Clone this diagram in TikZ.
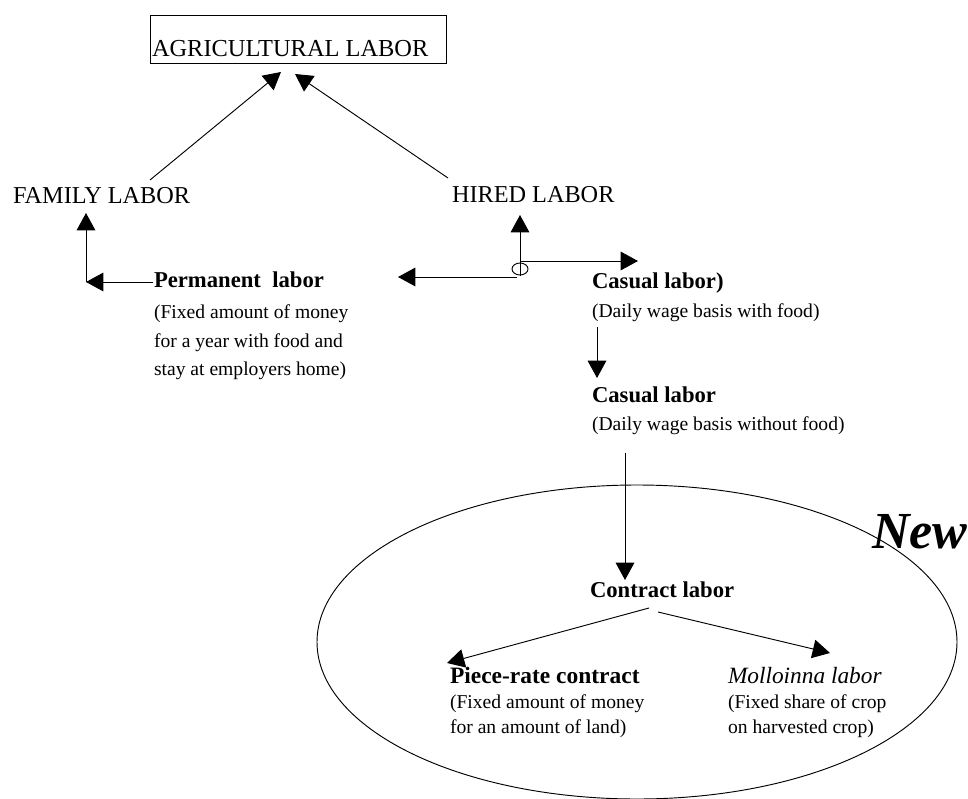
\documentclass[tikz,border=0pt]{standalone}
\usepackage{fontspec}
\setmainfont{Liberation Serif}
\usetikzlibrary{arrows.meta}
\tikzset{
  px/.style={x=0.75pt,y=-0.75pt},
  conn/.style={line width=0.7pt,-{Triangle[length=13pt,width=14pt]}},
  plain/.style={line width=0.7pt},
  txt/.style={anchor=base west,inner sep=0pt,outer sep=0pt},
  head/.style={txt,font=\fontsize{17pt}{20pt}\selectfont\bfseries},
  body/.style={txt,font=\fontsize{14.7pt}{18pt}\selectfont},
  caps/.style={txt,font=\fontsize{18.2pt}{21pt}\selectfont},
}
\begin{document}
\begin{tikzpicture}[px]
\useasboundingbox (0,0) rectangle (968,799);
% top box
\node[draw,line width=1pt,minimum width=296*0.75pt,minimum height=48*0.75pt,inner sep=0pt,anchor=north west] (agbox) at (150,15) {};
\node[txt,font=\fontsize{18.3pt}{21pt}\selectfont] (ag) at (152,57) {AGRICULTURAL LABOR};
\node[caps] (fam) at (13,203) {FAMILY LABOR};
\node[caps] (hired) at (452,202) {HIRED LABOR};
% permanent
\node[head] (perm) at (154,287) {Permanent\ \ labor};
\node[body] (perm1) at (154,318) {(Fixed amount of money};
\node[body] (perm2) at (154,347) {for a year with food and};
\node[body] (perm3) at (154,375) {stay at employers home)};
% casual
\node[head] (cas1) at (592,288) {Casual labor)};
\node[body] (cas1b) at (592,317) {(Daily wage basis with food)};
\node[head] (cas2) at (592,402) {Casual labor};
\node[body] (cas2b) at (592,430) {(Daily wage basis without food)};
% ellipse region
\draw[plain] (637,642) ellipse [x radius=320, y radius=157];
\node[txt,font=\fontsize{39pt}{44pt}\selectfont\bfseries\itshape] (new) at (872,548) {New};
\node[head] (contract) at (590,597) {Contract labor};
\node[head,font=\fontsize{17.6pt}{20pt}\selectfont\bfseries] (piece) at (450,683) {Piece-rate contract};
\node[body] (piece1) at (450,708) {(Fixed amount of money};
\node[body] (piece2) at (450,733) {for an amount of land)};
\node[txt,font=\fontsize{17.5pt}{20pt}\selectfont\itshape] (moll) at (728,683) {Molloinna labor};
\node[body] (moll1) at (728,708) {(Fixed share of crop};
\node[body] (moll2) at (728,733) {on harvested crop)};
% connector coordinates
\coordinate (famfoot) at (150,180);
\coordinate (famtip) at (281,72);
\coordinate (hirfoot) at (448,178);
\coordinate (hirtip) at (295,74);
\coordinate (permw) at (153,282);
\coordinate (corner) at (86,282);
\coordinate (famup) at (86,213);
\coordinate (junc) at (520,276);
\coordinate (juntop) at (520,215);
\coordinate (junr) at (520,261);
\coordinate (junrtip) at (638,261);
\coordinate (junl) at (517,277);
\coordinate (junltip) at (398,277);
\coordinate (c1a) at (597,327);
\coordinate (c1b) at (597,378);
\coordinate (c2a) at (625,453);
\coordinate (c2b) at (625,580);
\coordinate (cla) at (649,608);
\coordinate (clb) at (447,663);
\coordinate (cra) at (658,612);
\coordinate (crb) at (830,653);
% connectors
\draw[conn] (famfoot) -- (famtip);
\draw[conn] (hirfoot) -- (hirtip);
\draw[conn] (permw) -- (corner);
\draw[conn] (corner) -- (famup);
\draw[plain] (520,269) ellipse [x radius=8, y radius=6];
\draw[conn] (junc) -- (juntop);
\draw[conn] (junr) -- (junrtip);
\draw[conn] (junl) -- (junltip);
\draw[conn] (c1a) -- (c1b);
\draw[conn] (c2a) -- (c2b);
\draw[conn] (cla) -- (clb);
\draw[conn] (cra) -- (crb);
\end{tikzpicture}
\end{document}
